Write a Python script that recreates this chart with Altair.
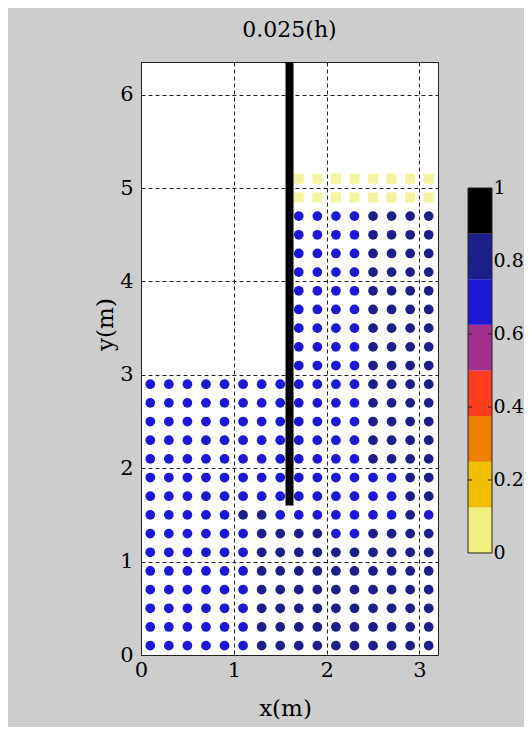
import altair as alt
import pandas as pd

# ---- data ----
left_x = [0.1, 0.3, 0.5, 0.7, 0.9, 1.1, 1.3, 1.5]
right_x = [1.7, 1.9, 2.1, 2.3, 2.5, 2.7, 2.9, 3.1]
left_y = [0.1, 0.3, 0.5, 0.7, 0.9, 1.1, 1.3, 1.5, 1.7, 1.9, 2.1, 2.3, 2.5, 2.7, 2.9]
right_y = [0.1, 0.3, 0.5, 0.7, 0.9, 1.1, 1.3, 1.5, 1.7, 1.9, 2.1, 2.3, 2.5,
           2.7, 2.9, 3.1, 3.3, 3.5, 3.7, 3.9, 4.1, 4.3, 4.5, 4.7, 4.9, 5.1]

# values per row, bottom row first
left_values = [
    [0.72, 0.72, 0.72, 0.72, 0.72, 0.72, 0.80, 0.80],
    [0.72, 0.72, 0.72, 0.72, 0.72, 0.72, 0.80, 0.80],
    [0.72, 0.72, 0.72, 0.72, 0.72, 0.72, 0.80, 0.80],
    [0.72, 0.72, 0.72, 0.72, 0.72, 0.72, 0.80, 0.80],
    [0.72, 0.72, 0.72, 0.72, 0.72, 0.72, 0.80, 0.80],
    [0.72, 0.72, 0.72, 0.72, 0.72, 0.72, 0.80, 0.80],
    [0.72, 0.72, 0.72, 0.72, 0.72, 0.72, 0.80, 0.80],
    [0.72, 0.72, 0.72, 0.72, 0.72, 0.80, 0.80, 0.72],
    [0.72, 0.72, 0.72, 0.72, 0.72, 0.72, 0.72, 0.72],
    [0.72, 0.72, 0.72, 0.72, 0.72, 0.72, 0.72, 0.72],
    [0.72, 0.72, 0.72, 0.72, 0.72, 0.72, 0.72, 0.72],
    [0.72, 0.72, 0.72, 0.72, 0.72, 0.72, 0.72, 0.72],
    [0.72, 0.72, 0.72, 0.72, 0.72, 0.72, 0.72, 0.72],
    [0.72, 0.72, 0.72, 0.72, 0.72, 0.72, 0.72, 0.72],
    [0.72, 0.72, 0.72, 0.72, 0.72, 0.72, 0.72, 0.72],
]
right_values = [
    [0.80, 0.80, 0.80, 0.80, 0.80, 0.80, 0.80, 0.80],
    [0.80, 0.80, 0.80, 0.80, 0.80, 0.80, 0.80, 0.80],
    [0.80, 0.80, 0.80, 0.80, 0.80, 0.80, 0.80, 0.80],
    [0.80, 0.80, 0.80, 0.80, 0.80, 0.80, 0.80, 0.80],
    [0.80, 0.80, 0.80, 0.80, 0.80, 0.80, 0.80, 0.80],
    [0.80, 0.80, 0.80, 0.80, 0.80, 0.80, 0.80, 0.80],
    [0.80, 0.80, 0.72, 0.72, 0.80, 0.80, 0.80, 0.80],
    [0.72, 0.72, 0.72, 0.72, 0.72, 0.72, 0.80, 0.72],
    [0.72, 0.72, 0.72, 0.72, 0.72, 0.72, 0.80, 0.80],
    [0.72, 0.72, 0.72, 0.72, 0.72, 0.72, 0.80, 0.80],
    [0.72, 0.72, 0.72, 0.72, 0.80, 0.80, 0.80, 0.80],
    [0.72, 0.72, 0.72, 0.72, 0.80, 0.80, 0.80, 0.80],
    [0.72, 0.72, 0.72, 0.72, 0.80, 0.80, 0.80, 0.80],
    [0.72, 0.72, 0.72, 0.72, 0.80, 0.80, 0.80, 0.80],
    [0.72, 0.72, 0.72, 0.72, 0.80, 0.80, 0.80, 0.80],
    [0.72, 0.72, 0.72, 0.72, 0.80, 0.80, 0.80, 0.80],
    [0.72, 0.72, 0.72, 0.72, 0.80, 0.80, 0.80, 0.80],
    [0.72, 0.72, 0.72, 0.72, 0.80, 0.80, 0.80, 0.80],
    [0.72, 0.72, 0.72, 0.72, 0.80, 0.80, 0.80, 0.80],
    [0.72, 0.72, 0.72, 0.72, 0.80, 0.80, 0.80, 0.80],
    [0.72, 0.72, 0.72, 0.72, 0.80, 0.80, 0.80, 0.80],
    [0.72, 0.72, 0.72, 0.72, 0.80, 0.80, 0.80, 0.80],
    [0.72, 0.72, 0.72, 0.72, 0.80, 0.80, 0.80, 0.80],
    [0.72, 0.72, 0.72, 0.72, 0.80, 0.80, 0.80, 0.80],
    [0.05, 0.05, 0.05, 0.05, 0.05, 0.05, 0.05, 0.05],
    [0.05, 0.05, 0.05, 0.05, 0.05, 0.05, 0.05, 0.05],
]

wall_x = [1.6]
wall_y_bottom = [1.6]
wall_y_top = [6.35]

band_lo = [0.0, 0.125, 0.25, 0.375, 0.5, 0.625, 0.75, 0.875]
band_hi = [0.125, 0.25, 0.375, 0.5, 0.625, 0.75, 0.875, 1.0]
band_colors = ["#f0f080", "#f0c000", "#f08000", "#ff3c1e",
               "#a0308c", "#1c18d4", "#1e1e8a", "#000000"]
cbar_ticks = [0, 0.2, 0.4, 0.6, 0.8, 1]
cbar_inner_ticks = [0.2, 0.4, 0.6, 0.8]

# ---- tables ----
rows = []
for yv, vals in zip(left_y, left_values):
    for xv, v in zip(left_x, vals):
        rows.append({"x": xv, "y": yv, "v": v})
for yv, vals in zip(right_y, right_values):
    for xv, v in zip(right_x, vals):
        rows.append({"x": xv, "y": yv, "v": v})
pts = pd.DataFrame(rows)
wall_df = pd.DataFrame({"x": wall_x, "y": wall_y_bottom, "y2": wall_y_top})
cb_df = pd.DataFrame({"lo": band_lo, "hi": band_hi,
                      "mid": [(a + b) / 2 for a, b in zip(band_lo, band_hi)]})
cb_frame = pd.DataFrame({"lo": [0.0], "hi": [1.0]})
cb_tick_df = pd.DataFrame({"lo": cbar_inner_ticks})

FONT = "DejaVu Serif"
color_scale = alt.Scale(type="threshold", domain=band_lo[1:], range=band_colors)
xscale = alt.Scale(domain=[0, 3.2], nice=False, zero=False)
yscale = alt.Scale(domain=[0, 6.35], nice=False, zero=False)
cscale = alt.Scale(domain=[-0.2795, 1.3452], nice=False, zero=False)

xaxis = alt.Axis(values=[0, 1, 2, 3], format="d", title="x(m)", grid=True,
                 gridDash=[4, 3], gridColor="#222222", gridOpacity=1,
                 ticks=False, domain=False, labelPadding=4, labelFontSize=21,
                 labelFlush=False, labelOverlap=False, titleFontSize=23,
                 titleX=144, titleY=53, titleBaseline="middle", titleAlign="center")
yaxis = alt.Axis(values=[0, 1, 2, 3, 4, 5, 6], format="d", title="y(m)", grid=True,
                 gridDash=[4, 3], gridColor="#222222", gridOpacity=1,
                 ticks=False, domain=False, labelPadding=8, labelFontSize=21,
                 labelFlush=False, labelOverlap=False, titleFontSize=23,
                 titleX=-36, titleY=262, titleBaseline="middle", titleAlign="center",
                 titleAngle=270)
caxis = alt.Axis(orient="right", offset=54, values=cbar_ticks,
                 domain=False, ticks=False, grid=False, title=None,
                 labelFontSize=19, labelPadding=1, labelFlush=False,
                 labelOverlap=False,
                 labelExpr="datum.value == 0 ? '0' : (datum.value == 1 ? '1' : format(datum.value, '.1f'))")

dots = alt.Chart(pts).transform_filter("datum.v > 0.125").mark_circle(
    size=95, opacity=1).encode(
    x=alt.X("x:Q", scale=xscale, axis=xaxis),
    y=alt.Y("y:Q", scale=yscale, axis=yaxis),
    color=alt.Color("v:Q", scale=color_scale, legend=None),
)
squares = alt.Chart(pts).transform_filter("datum.v <= 0.125").mark_square(
    size=100, opacity=0.75).encode(
    x=alt.X("x:Q", scale=xscale, axis=xaxis),
    y=alt.Y("y:Q", scale=yscale, axis=yaxis),
    color=alt.Color("v:Q", scale=color_scale, legend=None),
)
wall = alt.Chart(wall_df).mark_rule(color="black", strokeWidth=8).encode(
    x=alt.X("x:Q", scale=xscale, axis=xaxis),
    y=alt.Y("y:Q", scale=yscale, axis=yaxis),
    y2="y2:Q",
)
main = alt.layer(dots, squares, wall)

cb = alt.Chart(cb_df).mark_rect().encode(
    x=alt.value(327), x2=alt.value(351),
    y=alt.Y("lo:Q", scale=cscale, axis=caxis),
    y2="hi:Q",
    color=alt.Color("mid:Q", scale=color_scale, legend=None),
)
cb_border = alt.Chart(cb_frame).mark_rect(fill=None, stroke="#222222", strokeWidth=1).encode(
    x=alt.value(327), x2=alt.value(351),
    y=alt.Y("lo:Q", scale=cscale, axis=caxis),
    y2="hi:Q",
)
cb_ticks_l = alt.Chart(cb_tick_df).mark_rule(color="#222222", strokeWidth=1).encode(
    x=alt.value(327), x2=alt.value(331),
    y=alt.Y("lo:Q", scale=cscale, axis=caxis),
)
cb_ticks_r = alt.Chart(cb_tick_df).mark_rule(color="#222222", strokeWidth=1).encode(
    x=alt.value(347), x2=alt.value(351),
    y=alt.Y("lo:Q", scale=cscale, axis=caxis),
)
cbar = alt.layer(cb, cb_border, cb_ticks_l, cb_ticks_r)

chart = alt.layer(main, cbar).resolve_scale(y="independent").properties(
    width=297, height=593,
    title=alt.TitleParams(text="0.025(h)", font=FONT, fontSize=22, fontWeight="normal",
                          anchor="middle", frame="group", baseline="middle",
                          offset=6, color="black"),
    autosize=alt.AutoSizeParams(type="none"),
    padding={"left": 133, "top": 54, "right": 86, "bottom": 72},
    background="#cdcdcd",
).configure_view(
    fill="white", stroke="#222222", strokeWidth=1
).configure_axis(
    labelFont=FONT, titleFont=FONT, labelColor="black", titleColor="black",
    titleFontWeight="normal"
)

chart.save("out.html", embed_options={"renderer": "svg", "actions": False})
